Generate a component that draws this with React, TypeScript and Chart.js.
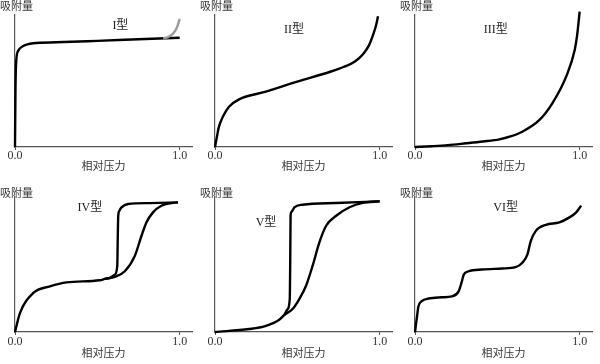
import React, { useEffect, useRef } from 'react';
import { Chart, registerables } from 'chart.js';

Chart.register(...registerables);

// ---------- data ----------
const xTickValues = [0, 1];
const xAxisTitle = '相对压力';
const yAxisTitle = '吸附量';

const typeIX = [0, 0.003, 0.008, 0.02, 0.05, 0.11, 0.25, 0.5, 0.75, 1.0];
const typeIY = [0, 0.45, 0.66, 0.73, 0.765, 0.786, 0.793, 0.804, 0.816, 0.828];
const typeIGrayX = [0.9, 0.93, 0.962, 0.985, 1.0];
const typeIGrayY = [0.823, 0.832, 0.861, 0.91, 0.97];

const typeIIX = [0, 0.012, 0.024, 0.05, 0.085, 0.146, 0.309, 0.5, 0.7, 0.78, 0.85, 0.9, 0.935, 0.96, 0.978, 0.99];
const typeIIY = [0, 0.08, 0.154, 0.235, 0.305, 0.361, 0.419, 0.495, 0.57, 0.606, 0.648, 0.705, 0.77, 0.85, 0.92, 0.99];

const typeIIIX = [0, 0.1, 0.2, 0.309, 0.412, 0.512, 0.58, 0.652, 0.756, 0.835, 0.918, 0.97, 0.985, 1.0];
const typeIIIY = [0, 0.006, 0.014, 0.028, 0.042, 0.058, 0.08, 0.116, 0.205, 0.333, 0.533, 0.735, 0.85, 1.025];

const typeIVAdsX = [0, 0.03, 0.111, 0.212, 0.313, 0.515, 0.545, 0.606, 0.667, 0.727, 0.768, 0.798, 0.838, 0.889, 0.95, 0.99];
const typeIVAdsY = [0, 0.14, 0.289, 0.338, 0.368, 0.383, 0.393, 0.408, 0.45, 0.562, 0.711, 0.811, 0.886, 0.935, 0.955, 0.96];
const typeIVDesX = [0.545, 0.576, 0.606, 0.621, 0.624, 0.627, 0.633, 0.647, 0.687, 0.818, 0.99];
const typeIVDesY = [0.393, 0.401, 0.425, 0.487, 0.687, 0.86, 0.896, 0.923, 0.948, 0.955, 0.96];

const typeVAdsX = [0, 0.207, 0.305, 0.39, 0.421, 0.471, 0.512, 0.553, 0.593, 0.634, 0.675, 0.736, 0.817, 0.898, 1.0];
const typeVAdsY = [0, 0.022, 0.044, 0.091, 0.126, 0.17, 0.244, 0.343, 0.491, 0.664, 0.787, 0.861, 0.924, 0.956, 0.968];
const typeVDesX = [0.421, 0.441, 0.454, 0.457, 0.459, 0.465, 0.482, 0.532, 0.736, 1.0];
const typeVDesY = [0.126, 0.17, 0.244, 0.541, 0.861, 0.891, 0.924, 0.943, 0.956, 0.968];

const typeVIX = [0, 0.011, 0.021, 0.041, 0.082, 0.163, 0.224, 0.265, 0.285, 0.296, 0.326, 0.407, 0.53, 0.611, 0.652, 0.683, 0.703, 0.734, 0.795, 0.877, 0.938, 0.979, 1.009];
const typeVIY = [0, 0.104, 0.19, 0.228, 0.248, 0.257, 0.264, 0.301, 0.376, 0.425, 0.45, 0.463, 0.47, 0.48, 0.513, 0.575, 0.674, 0.749, 0.794, 0.812, 0.849, 0.886, 0.936];

const typeLabels = ['I型', 'II型', 'III型', 'IV型', 'V型', 'VI型'];
const typeLabelX = [0.64, 0.48, 0.49, 0.455, 0.31, 0.55];
const typeLabelY = [0.92, 0.89, 0.89, 0.92, 0.81, 0.92];

// ---------- helpers ----------
const toPoints = (xs: number[], ys: number[]) => xs.map((x, i) => ({ x, y: ys[i] }));

type Series = { xs: number[]; ys: number[]; color: string };

const panels: { series: Series[]; col: number; row: number }[] = [
  { series: [{ xs: typeIGrayX, ys: typeIGrayY, color: '#9a9a9a' }, { xs: typeIX, ys: typeIY, color: '#000' }], col: 0, row: 0 },
  { series: [{ xs: typeIIX, ys: typeIIY, color: '#000' }], col: 1, row: 0 },
  { series: [{ xs: typeIIIX, ys: typeIIIY, color: '#000' }], col: 2, row: 0 },
  { series: [{ xs: typeIVAdsX, ys: typeIVAdsY, color: '#000' }, { xs: typeIVDesX, ys: typeIVDesY, color: '#000' }], col: 0, row: 1 },
  { series: [{ xs: typeVAdsX, ys: typeVAdsY, color: '#000' }, { xs: typeVDesX, ys: typeVDesY, color: '#000' }], col: 1, row: 1 },
  { series: [{ xs: typeVIX, ys: typeVIY, color: '#000' }], col: 2, row: 1 },
];

const rowCfg = [
  { top: 0, height: 182, padTop: 15, scaleH: 35, titlePad: 10, tickPad: 0, yLabelY: 6 },
  { top: 182, height: 182, padTop: 15, scaleH: 32, titlePad: 4.5, tickPad: 1, yLabelY: 11 },
];

const SERIF = '"Liberation Serif", "Noto Sans CJK SC", serif';
const CJK = '"Noto Sans CJK SC", "Liberation Serif", sans-serif';

function Panel({ index }: { index: number }) {
  const ref = useRef<HTMLCanvasElement | null>(null);
  const p = panels[index];
  const rc = rowCfg[p.row];

  useEffect(() => {
    if (!ref.current) return;
    const labelPlugin = {
      id: 'panelLabels',
      afterDraw(chart: any) {
        const ctx = chart.ctx;
        ctx.save();
        ctx.fillStyle = '#333';
        ctx.font = '11px ' + CJK;
        ctx.textAlign = 'left';
        ctx.textBaseline = 'middle';
        ctx.fillText(yAxisTitle, 0, rc.yLabelY);
        const xs = chart.scales.x;
        const ys = chart.scales.y;
        ctx.fillStyle = '#222';
        ctx.font = '12px ' + SERIF;
        ctx.textAlign = 'center';
        ctx.fillText(typeLabels[index], xs.getPixelForValue(typeLabelX[index]), ys.getPixelForValue(typeLabelY[index]));
        ctx.restore();
      },
    };
    const chart = new Chart(ref.current, {
      type: 'line',
      data: {
        datasets: p.series.map((s) => ({
          data: toPoints(s.xs, s.ys),
          borderColor: s.color,
          borderWidth: 2.4,
          pointRadius: 0,
          fill: false,
          cubicInterpolationMode: 'monotone' as const,
          clip: false as any,
        })),
      },
      options: {
        responsive: false,
        animation: false,
        events: [],
        layout: { padding: { left: 15, right: 8, top: rc.padTop, bottom: 0 } },
        plugins: { legend: { display: false }, tooltip: { enabled: false }, title: { display: false } },
        scales: {
          x: {
            type: 'linear',
            min: 0,
            max: 1.075,
            afterBuildTicks: (s: any) => {
              s.ticks = xTickValues.map((v) => ({ value: v }));
            },
            afterFit: (s: any) => {
              s.height = rc.scaleH;
            },
            ticks: {
              autoSkip: false,
              maxRotation: 0,
              padding: rc.tickPad,
              color: '#333',
              font: { family: SERIF, size: 12, lineHeight: 1 },
              callback: (v: any) => Number(v).toFixed(1),
            },
            grid: { display: true, drawOnChartArea: false, drawTicks: true, tickLength: 3, color: '#555', lineWidth: 1 },
            border: { display: true, color: '#555', width: 1.2 },
            title: {
              display: true,
              text: xAxisTitle,
              color: '#333',
              font: { family: CJK, size: 11 },
              padding: { top: 0, bottom: rc.titlePad },
            },
          },
          y: {
            type: 'linear',
            min: 0,
            max: 1,
            afterFit: (s: any) => {
              s.width = 0;
            },
            ticks: { display: false },
            grid: { display: false, drawTicks: false },
            border: { display: true, color: '#555', width: 1.2 },
          },
        },
      },
      plugins: [labelPlugin],
    } as any);
    return () => chart.destroy();
  }, []);

  return (
    <canvas
      ref={ref}
      width={200}
      height={rc.height}
      style={{ position: 'absolute', left: p.col * 200, top: rc.top, width: 200, height: rc.height }}
    />
  );
}

export default function App() {
  return (
    <div style={{ position: 'absolute', left: 0, top: 0, width: 600, height: 364, background: '#fff', overflow: 'hidden' }}>
      {panels.map((_, i) => (
        <Panel key={i} index={i} />
      ))}
    </div>
  );
}
